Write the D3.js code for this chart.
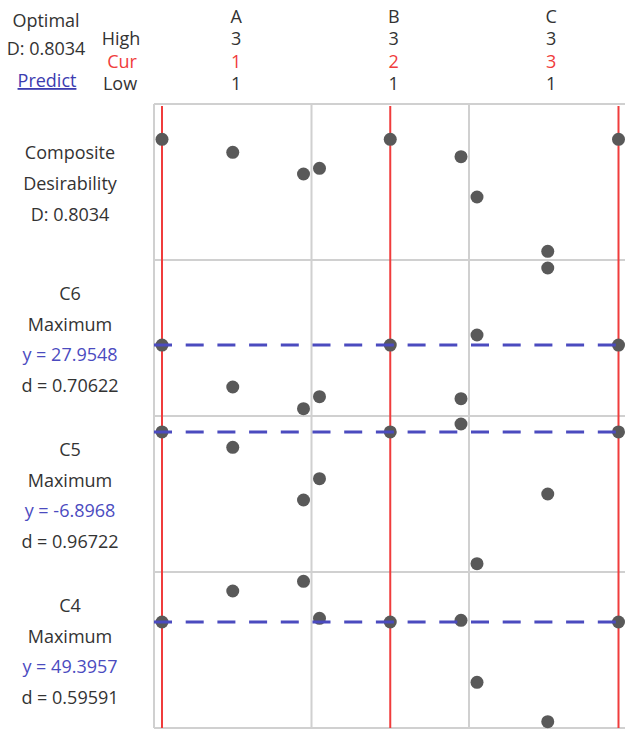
<!DOCTYPE html>
<html><head><meta charset="utf-8">
<script src="https://cdn.jsdelivr.net/npm/d3@7"></script>
<style>body{margin:0;background:#fff} text{font-family:"Open Sans",sans-serif}</style>
</head><body><svg id="chart" width="625" height="730"></svg>
<script>
// ---- data ----
const factors = ["A", "B", "C"];
const factorHigh = [3, 3, 3];
const factorCur = [1, 2, 3];
const factorLow = [1, 1, 1];
const levels = [1, 2, 3];

const responses = ["Composite", "C6", "C5", "C4"];
const goals = ["Desirability", "Maximum", "Maximum", "Maximum"];
const predicted = [0.8034, 27.9548, -6.8968, 49.3957];
const desirability = [0.8034, 0.70622, 0.96722, 0.59591];
const yDomains = [[0.03, 1.03], [4.3, 56.3], [-20.9, -5.3], [-3.6, 74.4]];

// response values at levels 1,2,3 of A, B, C (others held at current)
const compositeVals = [[0.8034, 0.7204, 0.5813], [0.6178, 0.8034, 0.6922], [0.4338, 0.0858, 0.8034]];
const c6Vals = [[27.9548, 13.97, 6.73], [10.73, 27.9548, 10.07], [31.30, 53.63, 27.9548]];
const c5Vals = [[-6.8968, -8.43, -13.70], [-11.57, -6.8968, -6.10], [-20.07, -13.10, -6.8968]];
const c4Vals = [[49.3957, 64.90, 69.75], [51.25, 49.3957, 50.25], [19.25, -0.45, 49.3957]];
const allVals = [compositeVals, c6Vals, c5Vals, c4Vals];

// ---- layout ----
const svg = d3.select("#chart");
const pLeft = 154, pRight = 626.5, pTop = 104, pBottom = 728;
const textCol = "#333", red = "#f03c3c", blue = "#4b4bbf", grid = "#d0d0d0", dotCol = "#595959";

const colBand = d3.scaleBand().domain(factors).range([pLeft, pRight]);
const rowBand = d3.scaleBand().domain(responses).range([pTop, pBottom]);
const xScales = factors.map((f, i) => d3.scaleLinear()
  .domain([factorLow[i], factorHigh[i]])
  .range([colBand(f) + 8, colBand(f) + colBand.bandwidth() - 8]));
const yScales = responses.map((r, j) => d3.scaleLinear()
  .domain(yDomains[j])
  .range([rowBand(r) + rowBand.bandwidth(), rowBand(r)]));

// grid frame
const g = svg.append("g");
factors.forEach(f => {
  g.append("line").attr("x1", colBand(f)).attr("x2", colBand(f)).attr("y1", pTop).attr("y2", pBottom)
    .attr("stroke", grid).attr("stroke-width", 2);
});
g.append("line").attr("x1", pRight).attr("x2", pRight).attr("y1", pTop).attr("y2", pBottom)
  .attr("stroke", grid).attr("stroke-width", 2);
responses.forEach(r => {
  g.append("line").attr("x1", pLeft).attr("x2", pRight).attr("y1", rowBand(r)).attr("y2", rowBand(r))
    .attr("stroke", grid).attr("stroke-width", 2);
});
g.append("line").attr("x1", pLeft).attr("x2", pRight).attr("y1", pBottom).attr("y2", pBottom)
  .attr("stroke", grid).attr("stroke-width", 2);

// red current lines
factors.forEach((f, i) => {
  const x = xScales[i](factorCur[i]);
  g.append("line").attr("x1", x).attr("x2", x).attr("y1", pTop + 2).attr("y2", pBottom)
    .attr("stroke", red).attr("stroke-width", 2);
});

// dots
responses.forEach((r, j) => {
  factors.forEach((f, i) => {
    g.selectAll(null).data(levels).enter().append("circle")
      .attr("cx", (d) => xScales[i](d))
      .attr("cy", (d, k) => yScales[j](allVals[j][i][k]))
      .attr("r", 6.5).attr("fill", dotCol);
  });
});

// blue dashed predicted lines
responses.forEach((r, j) => {
  if (j === 0) return;
  const y = yScales[j](predicted[j]);
  g.append("line").attr("x1", pLeft).attr("x2", pRight).attr("y1", y).attr("y2", y)
    .attr("stroke", blue).attr("stroke-width", 3).attr("stroke-dasharray", "18,13.7");
});

// ---- text ----
const fs = "18px";
function txt(x, y, s, col, anchor) {
  return svg.append("text").attr("x", x).attr("y", y).attr("text-anchor", anchor || "middle")
    .attr("font-size", fs).attr("fill", col || textCol).text(s);
}
txt(46, 27, "Optimal");
txt(46, 55, "D: " + predicted[0].toFixed(4));
txt(47, 87, "Predict", "#3c3cb0").style("text-decoration", "underline");
txt(121, 44.5, "High");
txt(122, 67.5, "Cur", red);
txt(120, 90, "Low");

factors.forEach((f, i) => {
  const cx = colBand(f) + colBand.bandwidth() / 2 + 3.5;
  txt(cx, 22.5, f);
  txt(cx, 44.5, factorHigh[i]);
  txt(cx, 67.5, factorCur[i], red);
  txt(cx, 90, factorLow[i]);
});

// row labels
const lineH = 30.7;
responses.forEach((r, j) => {
  const mid = rowBand(r) + rowBand.bandwidth() / 2 + 2;
  let lines;
  if (j === 0) {
    lines = [["Composite", textCol], [goals[0], textCol], ["D: " + desirability[0].toFixed(4), textCol]];
  } else {
    const yv = predicted[j].toFixed(4);
    lines = [[r, textCol], [goals[j], textCol], ["y = " + yv, blue], ["d = " + desirability[j].toFixed(5), textCol]];
  }
  const n = lines.length;
  lines.forEach((l, k) => {
    txt(70, mid + (k - (n - 1) / 2) * lineH + 6, l[0], l[1]);
  });
});
</script></body></html>
